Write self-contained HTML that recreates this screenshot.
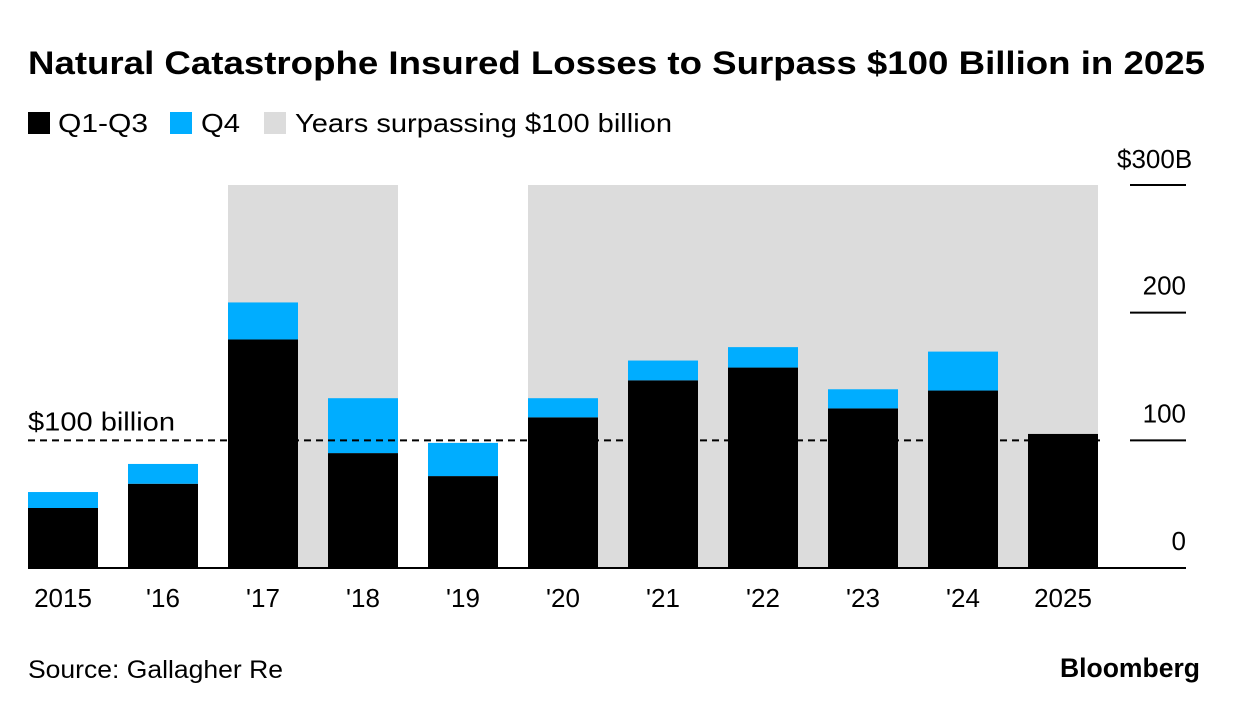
<!DOCTYPE html>
<html><head><meta charset="utf-8"><style>
body{margin:0;background:#fff;font-family:"Liberation Sans",sans-serif;}
svg text{font-family:"Liberation Sans",sans-serif;}
</style></head><body>
<svg id="chart" width="1240" height="712" xmlns="http://www.w3.org/2000/svg">
<text x="28" y="74" font-size="32" font-weight="bold" fill="#000" textLength="1177" lengthAdjust="spacingAndGlyphs">Natural Catastrophe Insured Losses to Surpass $100 Billion in 2025</text>
<g>
<rect x="28" y="112" width="22" height="22" fill="#000"/>
<text x="58" y="132" font-size="26" textLength="90" lengthAdjust="spacingAndGlyphs">Q1-Q3</text>
<rect x="170" y="112" width="22" height="22" fill="#00adff"/>
<text x="201" y="132" font-size="26" textLength="39" lengthAdjust="spacingAndGlyphs">Q4</text>
<rect x="264" y="112" width="22" height="22" fill="#dcdcdc"/>
<text x="295" y="132" font-size="26" textLength="377" lengthAdjust="spacingAndGlyphs">Years surpassing $100 billion</text>
</g>
<g id="bands"></g><g id="bars"></g><g id="axis"></g>
<text x="28" y="678" font-size="25" textLength="255" lengthAdjust="spacingAndGlyphs">Source: Gallagher Re</text>
<text x="1060" y="677" font-size="27" font-weight="bold" textLength="140" lengthAdjust="spacingAndGlyphs">Bloomberg</text>
</svg>
<script>
const categories=["2015","'16","'17","'18","'19","'20","'21","'22","'23","'24","2025"];
const q1q3=[47,66,179,90,72,118,147,157,125,139,105];
const q4=[12.5,15.5,29,43,26,15,15.5,16,15,30.5,0];
const highlight=[false,false,true,true,false,true,true,true,true,true,true];
const ticks=[0,100,200,300];
const tickLabels=["0","100","200","$300B"];
const threshold=100;
const NS="http://www.w3.org/2000/svg";
const y=v=>568-v*1.2767;
const x=i=>28+i*100;
const bw=70;
function mk(tag,attrs,parent,text){const e=document.createElementNS(NS,tag);for(const k in attrs)e.setAttribute(k,attrs[k]);if(text!==undefined)e.textContent=text;document.getElementById(parent).appendChild(e);return e;}
categories.forEach((c,i)=>{
 if(highlight[i]){const b=mk('rect',{x:x(i)-(highlight[i-1]?30:0),y:y(300),width:bw+(highlight[i-1]?30:0),height:y(0)-y(300),fill:'#dcdcdc'},'bands');
 
 }
 const r1=mk('rect',{x:x(i),y:y(q1q3[i]),width:bw,height:y(0)-y(q1q3[i]),fill:'#000'},'bars');
 
 
 if(q4[i]>0){const r2=mk('rect',{x:x(i),y:y(q1q3[i]+q4[i]),width:bw,height:y(q1q3[i])-y(q1q3[i]+q4[i]),fill:'#00adff'},'bars');
 
 }
 const t=mk('text',{x:x(i)+bw/2,y:607,'font-size':26,'text-anchor':'middle'},'axis',c);
 
 
});
ticks.forEach((v,i)=>{
 const l=mk('line',{x1:v===0?28:1130,x2:1186,y1:y(v),y2:y(v),stroke:'#000','stroke-width':2},'axis');
 
 
 const last=i===ticks.length-1;
 const t=mk('text',last?{x:1117,y:y(v)-17,'font-size':26}:{x:1186,y:y(v)-18,'font-size':26,'text-anchor':'end'},'axis',tickLabels[i]);
 
 
});
const d=mk('line',{x1:28,x2:1100,y1:y(threshold),y2:y(threshold),stroke:'#000','stroke-width':2,'stroke-dasharray':'7,5'},'axis');


const dl=mk('text',{x:28,y:y(threshold)-10,'font-size':26,textLength:147,lengthAdjust:'spacingAndGlyphs'},'axis','$100 billion');


</script>
</body></html>
